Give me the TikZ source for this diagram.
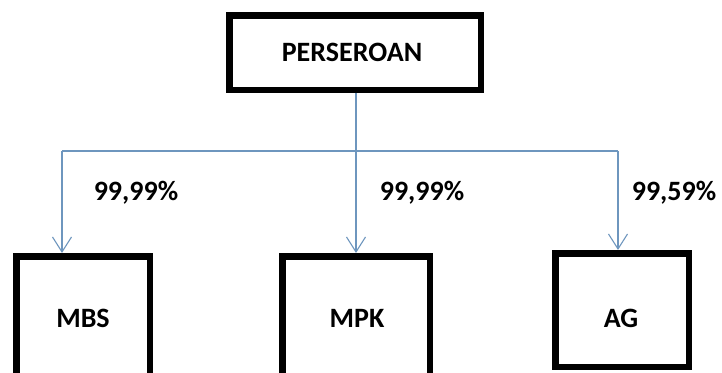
\documentclass[tikz,border=0pt]{standalone}
\usepackage{fontspec}
\setmainfont{Carlito}
\usetikzlibrary{arrows.meta}
\definecolor{linkblue}{RGB}{110,150,190}
\begin{document}
\begin{tikzpicture}[x=1pt,y=-1pt,
  box/.style={draw=black,line width=6.5pt,fill=white},
  lbl/.style={font=\fontsize{28}{32}\selectfont\bfseries},
  link/.style={draw=linkblue,line width=1.3pt,-{Straight Barb[length=15pt,width=19pt,line width=1.1pt]}}]
\useasboundingbox (0,0) rectangle (722,372);
\begin{scope}
\clip (0,0) rectangle (722,372);
\draw[box] (229.25,15.25) rectangle (480.75,89.75);
\draw[box] (16.25,256.25) rectangle (149.75,400);
\draw[box] (282.25,256.25) rectangle (429.75,400);
\draw[box] (555.25,253.25) rectangle (688.75,366.75);
\end{scope}
\node[lbl] (p) at (352,52) {PERSEROAN};
\coordinate (ptop) at (356,93);
\coordinate (j) at (356,151);
\coordinate (jl) at (62,151);
\coordinate (jr) at (618,151);
\coordinate (mbs) at (62,253);
\coordinate (mpk) at (356,253);
\coordinate (ag) at (618,250);
\node[lbl] (tmbs) at (83,318) {MBS};
\node[lbl] (tmpk) at (357,318) {MPK};
\node[lbl] (tag) at (621,318) {AG};
\draw[draw=linkblue,line width=1.3pt] (jl) -- (jr);
\draw[link] (ptop) -- (mpk);
\draw[link] (jl) -- (mbs);
\draw[link] (jr) -- (ag);
\node[lbl] (l1) at (136,193) {99,99\%};
\node[lbl] (l2) at (422,193) {99,99\%};
\node[lbl] (l3) at (674,193) {99,59\%};
\end{tikzpicture}
\end{document}
